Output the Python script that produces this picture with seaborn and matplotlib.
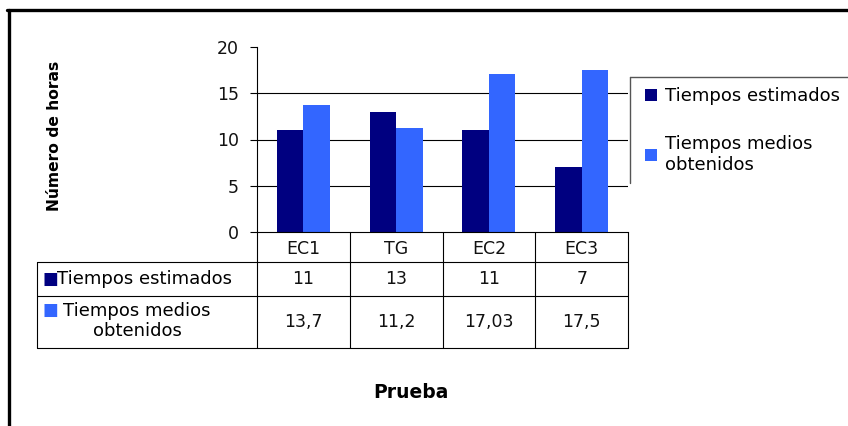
import matplotlib
matplotlib.use("Agg")
import matplotlib.pyplot as plt
import seaborn as sns
import pandas as pd
from matplotlib.lines import Line2D
from matplotlib.patches import Patch
from matplotlib.transforms import blended_transform_factory

# ---- data ----
categories = ["EC1", "TG", "EC2", "EC3"]
series_names = ["Tiempos estimados", "Tiempos medios obtenidos"]
row_labels = ["Tiempos estimados", "Tiempos medios\nobtenidos"]
estimados = [11, 13, 11, 7]
medios = [13.7, 11.2, 17.03, 17.5]
yticks = [0, 5, 10, 15, 20]
colors = ["#000080", "#3366FF"]

df = pd.DataFrame({
    "Prueba": categories * 2,
    "Serie": [series_names[0]] * 4 + [series_names[1]] * 4,
    "Horas": estimados + medios,
})

sns.set_theme(style="white")
plt.rcParams["font.family"] = ["DejaVu Sans"]

W, H = 848, 426
fig = plt.figure(figsize=(W / 100, H / 100), dpi=100)

def fx(px):
    return px / W

def fy(py):
    return 1 - py / H

FS = 12.5
TXT = "#111111"

ax = fig.add_axes([fx(257), fy(232), fx(628) - fx(257), fy(47) - fy(232)])
sns.barplot(data=df, x="Prueba", y="Horas", hue="Serie", palette=colors,
            width=0.57, gap=0, ax=ax, legend=False, saturation=1, edgecolor="none")
ax.set_xlim(-0.5, 3.5)
ax.set_ylim(0, 20)
ax.set_yticks(yticks)
ax.set_yticklabels([str(t) for t in yticks], fontsize=FS, color=TXT)
ax.set_xticks(range(len(categories)))
ax.set_xticklabels(categories, fontsize=FS, color=TXT)
ax.tick_params(axis="x", length=0, pad=6)
ax.tick_params(axis="y", length=5, width=0.8, color="black", pad=8, left=True)
ax.set_xlabel("")
ax.set_ylabel("")
for s in ["top", "right"]:
    ax.spines[s].set_visible(False)
for s in ["left", "bottom"]:
    ax.spines[s].set_color("black")
    ax.spines[s].set_linewidth(0.8)
ax.grid(axis="y", color="black", linewidth=0.8)
ax.set_axisbelow(True)
gl = ax.get_ygridlines()
gl[0].set_visible(False)
gl[-1].set_visible(False)

# ---- data table ----
tr = blended_transform_factory(ax.transData, fig.transFigure)
lw = 0.8
for i in range(len(categories) + 1):
    fig.add_artist(Line2D([i - 0.5, i - 0.5], [fy(232), fy(348)], transform=tr,
                          color="black", lw=lw))
for yy in [262, 296, 348]:
    fig.add_artist(Line2D([fx(37), fx(628)], [fy(yy), fy(yy)],
                          transform=fig.transFigure, color="black", lw=lw))
fig.add_artist(Line2D([fx(37), fx(37)], [fy(262), fy(348)],
                      transform=fig.transFigure, color="black", lw=lw))

def fmt(v):
    return f"{v:g}".replace(".", ",")

for i, (e, m) in enumerate(zip(estimados, medios)):
    fig.text(i, fy(279), fmt(e), transform=tr, ha="center", va="center",
             fontsize=FS, color=TXT)
    fig.text(i, fy(322), fmt(m), transform=tr, ha="center", va="center",
             fontsize=FS, color=TXT)

fig.text(fx(42), fy(279), "■", color=colors[0], fontsize=12, ha="left", va="center")
fig.text(fx(57), fy(279), row_labels[0], fontsize=FS + 0.5, ha="left", va="center", color="black")
fig.text(fx(42), fy(310), "■", color=colors[1], fontsize=12, ha="left", va="center")
fig.text(fx(137), fy(321), row_labels[1], fontsize=FS + 0.5, ha="center", va="center",
         multialignment="center", linespacing=1.1, color="black")

# ---- axis titles ----
fig.text(fx(55), fy(136), "Número de horas", rotation=90, fontsize=11.2,
         fontweight="bold", ha="center", va="center", color="black")
fig.text(fx(411), fy(393), "Prueba", fontsize=13.5, fontweight="bold",
         ha="center", va="center", color="black")

# ---- legend ----
fig.add_artist(Line2D([fx(630), fx(630)], [fy(77), fy(183)],
                      transform=fig.transFigure, color="#555555", lw=1))
fig.add_artist(Line2D([fx(630), fx(848)], [fy(77), fy(77)],
                      transform=fig.transFigure, color="#555555", lw=1))
handles = [Patch(facecolor=c, edgecolor="none") for c in colors]
fig.legend(handles, row_labels, loc="upper left",
           bbox_to_anchor=(fx(638), fy(80)), frameon=False, fontsize=FS + 0.5,
           handlelength=0.65, handleheight=0.65, handletextpad=0.45,
           labelspacing=1.65, borderaxespad=0)
for t in fig.legends[0].get_texts():
    t.set_color("black")

# ---- outer frame ----
fig.add_artist(Line2D([fx(7), fx(848)], [fy(10), fy(10)],
                      transform=fig.transFigure, color="black", lw=2.4))
fig.add_artist(Line2D([fx(9), fx(9)], [fy(10), fy(426)],
                      transform=fig.transFigure, color="black", lw=2.4))

fig.savefig("out.png", dpi=100)
